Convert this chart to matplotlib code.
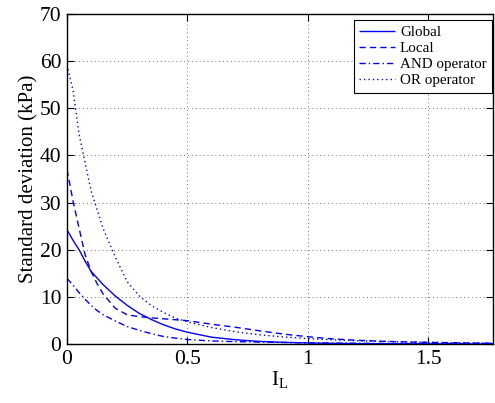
import matplotlib
matplotlib.use("Agg")
import matplotlib.pyplot as plt

# liquidity index values
il = [0, 0.025, 0.05, 0.075, 0.1, 0.125, 0.15, 0.2, 0.25, 0.3, 0.35, 0.4, 0.45,
      0.5, 0.6, 0.7, 0.8, 0.9, 1.0, 1.1, 1.2, 1.3, 1.4, 1.5, 1.6, 1.7, 1.8]

sd_global = [24.2, 22.0, 20.0, 17.6, 15.4, 14.0, 12.6, 10.2, 8.2, 6.5, 5.2, 4.1, 3.2,
             2.5, 1.45, 0.9, 0.55, 0.35, 0.22, 0.14, 0.09, 0.06, 0.04, 0.03, 0.02, 0.01, 0.01]
sd_local = [37.0, 30.3, 24.6, 19.0, 15.4, 12.8, 10.6, 7.6, 6.2, 5.8, 5.55, 5.35, 5.15,
            4.95, 4.2, 3.55, 2.8, 2.1, 1.55, 1.1, 0.8, 0.6, 0.45, 0.35, 0.27, 0.2, 0.15]
sd_and = [13.9, 12.5, 10.9, 9.5, 8.2, 7.1, 6.2, 4.9, 3.7, 2.9, 2.2, 1.6, 1.25,
          0.95, 0.65, 0.5, 0.4, 0.32, 0.25, 0.2, 0.16, 0.12, 0.1, 0.08, 0.06, 0.05, 0.04]
sd_or = [59.2, 53.8, 44.5, 38.5, 32.5, 28.5, 24.5, 18.5, 13.2, 10.2, 8.2, 6.7, 5.5,
         4.7, 3.5, 2.6, 1.95, 1.5, 1.15, 0.9, 0.7, 0.55, 0.45, 0.35, 0.28, 0.22, 0.18]

series = [("Global", sd_global, (0, ())),
          ("Local", sd_local, (0, (4.5, 3))),
          ("AND operator", sd_and, (0, (4.5, 2.2, 1, 2.2))),
          ("OR operator", sd_or, (0, (1, 2.2)))]

plt.rcParams["font.family"] = ["Liberation Serif", "DejaVu Serif"]
plt.rcParams["mathtext.fontset"] = "custom"
plt.rcParams["mathtext.rm"] = "Liberation Serif"
plt.rcParams["mathtext.it"] = "Liberation Serif"

fig = plt.figure(figsize=(4.95, 4.03), dpi=100)
ax = fig.add_axes([0.1354, 0.1464, 0.9960 - 0.1354, 0.9653 - 0.1464])

for name, ys, ls in series:
    ax.plot(il, ys, linestyle=ls, color="blue", lw=1.0, label=name)

ax.set_xlim(0, 1.77)
ax.set_ylim(0, 70)
ax.set_xticks([0, 0.5, 1, 1.5])
ax.set_xticklabels(["0", "0.5", "1", "1.5"])
ax.set_yticks(range(0, 71, 10))
ax.grid(True, linestyle=(0, (1, 3)), color="0.45", lw=0.7)
ax.tick_params(direction="in", top=True, right=True, length=5, width=0.8,
               labelsize=15.5, pad=4)
for s in ax.spines.values():
    s.set_linewidth(1.0)

ax.set_xlabel(r"I$_\mathrm{L}$", fontsize=15, labelpad=0)
ax.set_ylabel("Standard deviation (kPa)", fontsize=15, labelpad=1)

leg = ax.legend(loc="upper right", bbox_to_anchor=(492 / 495, 1 - 20 / 403),
                bbox_transform=fig.transFigure, borderaxespad=0,
                fontsize=10.8, fancybox=False, framealpha=1,
                edgecolor="black", handlelength=2.4, labelspacing=0.18,
                handletextpad=0.35, borderpad=0.35)
leg.get_frame().set_linewidth(0.8)

fig.savefig("out.png", dpi=100)
